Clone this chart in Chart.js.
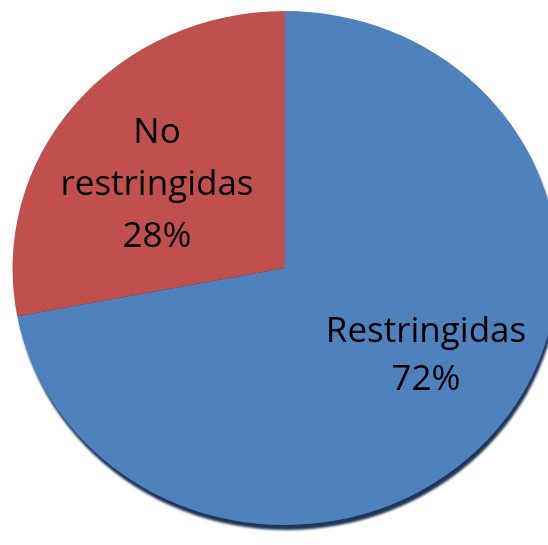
<!DOCTYPE html>
<html>
<head>
<meta charset="utf-8">
<script src="https://cdn.jsdelivr.net/npm/chart.js@4/dist/chart.umd.min.js"></script>
<style>
    html, body { margin: 0; padding: 0; background: #fff; }
    #wrap { width: 548px; height: 545px; }
</style>
</head>
<body>
<div id="wrap"><canvas id="pie"></canvas></div>
<script>
const categories = ['Restringidas', 'No restringidas'];
const shares = [72, 28];
const labelLines = [['Restringidas', '72%'], ['No', 'restringidas', '28%']];
const colors = ['#4F81BD', '#C0504D'];

// the original pie is a touch wider than tall
const stretchX = 1.06;

const ovalPie = {
    id: 'ovalPie',
    beforeDatasetsDraw(chart) {
        const arc = chart.getDatasetMeta(0).data[0];
        const ctx = chart.ctx;
        ctx.save();
        ctx.translate(arc.x, 0);
        ctx.scale(stretchX, 1);
        ctx.translate(-arc.x, 0);

        // dark rim under the bottom edge
        ctx.save();
        ctx.filter = 'blur(1px)';
        ctx.fillStyle = '#1f3556';
        ctx.beginPath();
        ctx.arc(arc.x + 1.5, arc.y + 5, arc.outerRadius, 0, Math.PI * 2);
        ctx.fill();
        ctx.restore();
    },
    afterDatasetsDraw(chart) {
        chart.ctx.restore();
    },
    afterDraw(chart) {
        const ctx = chart.ctx;
        const meta = chart.getDatasetMeta(0);
        ctx.save();
        ctx.fillStyle = '#000';
        ctx.font = '35px "Open Sans", sans-serif';
        ctx.textAlign = 'center';
        ctx.textBaseline = 'alphabetic';
        const spots = [[426, 342, 48], [157, 143, 52]];
        meta.data.forEach((el, i) => {
            const [x, y, lh] = spots[i];
            labelLines[i].forEach((t, j) => ctx.fillText(t, x, y + j * lh));
        });
        ctx.restore();
    }
};

new Chart(document.getElementById('pie'), {
    type: 'pie',
    data: {
        labels: categories,
        datasets: [{
            data: shares,
            backgroundColor: colors,
            borderWidth: 0
        }]
    },
    options: {
        responsive: true,
        maintainAspectRatio: false,
        animation: false,
        events: [],
        layout: { padding: { top: 11, bottom: 20, left: 28, right: 6 } },
        plugins: {
            legend: { display: false },
            tooltip: { enabled: false }
        }
    },
    plugins: [ovalPie]
});
</script>
</body>
</html>
